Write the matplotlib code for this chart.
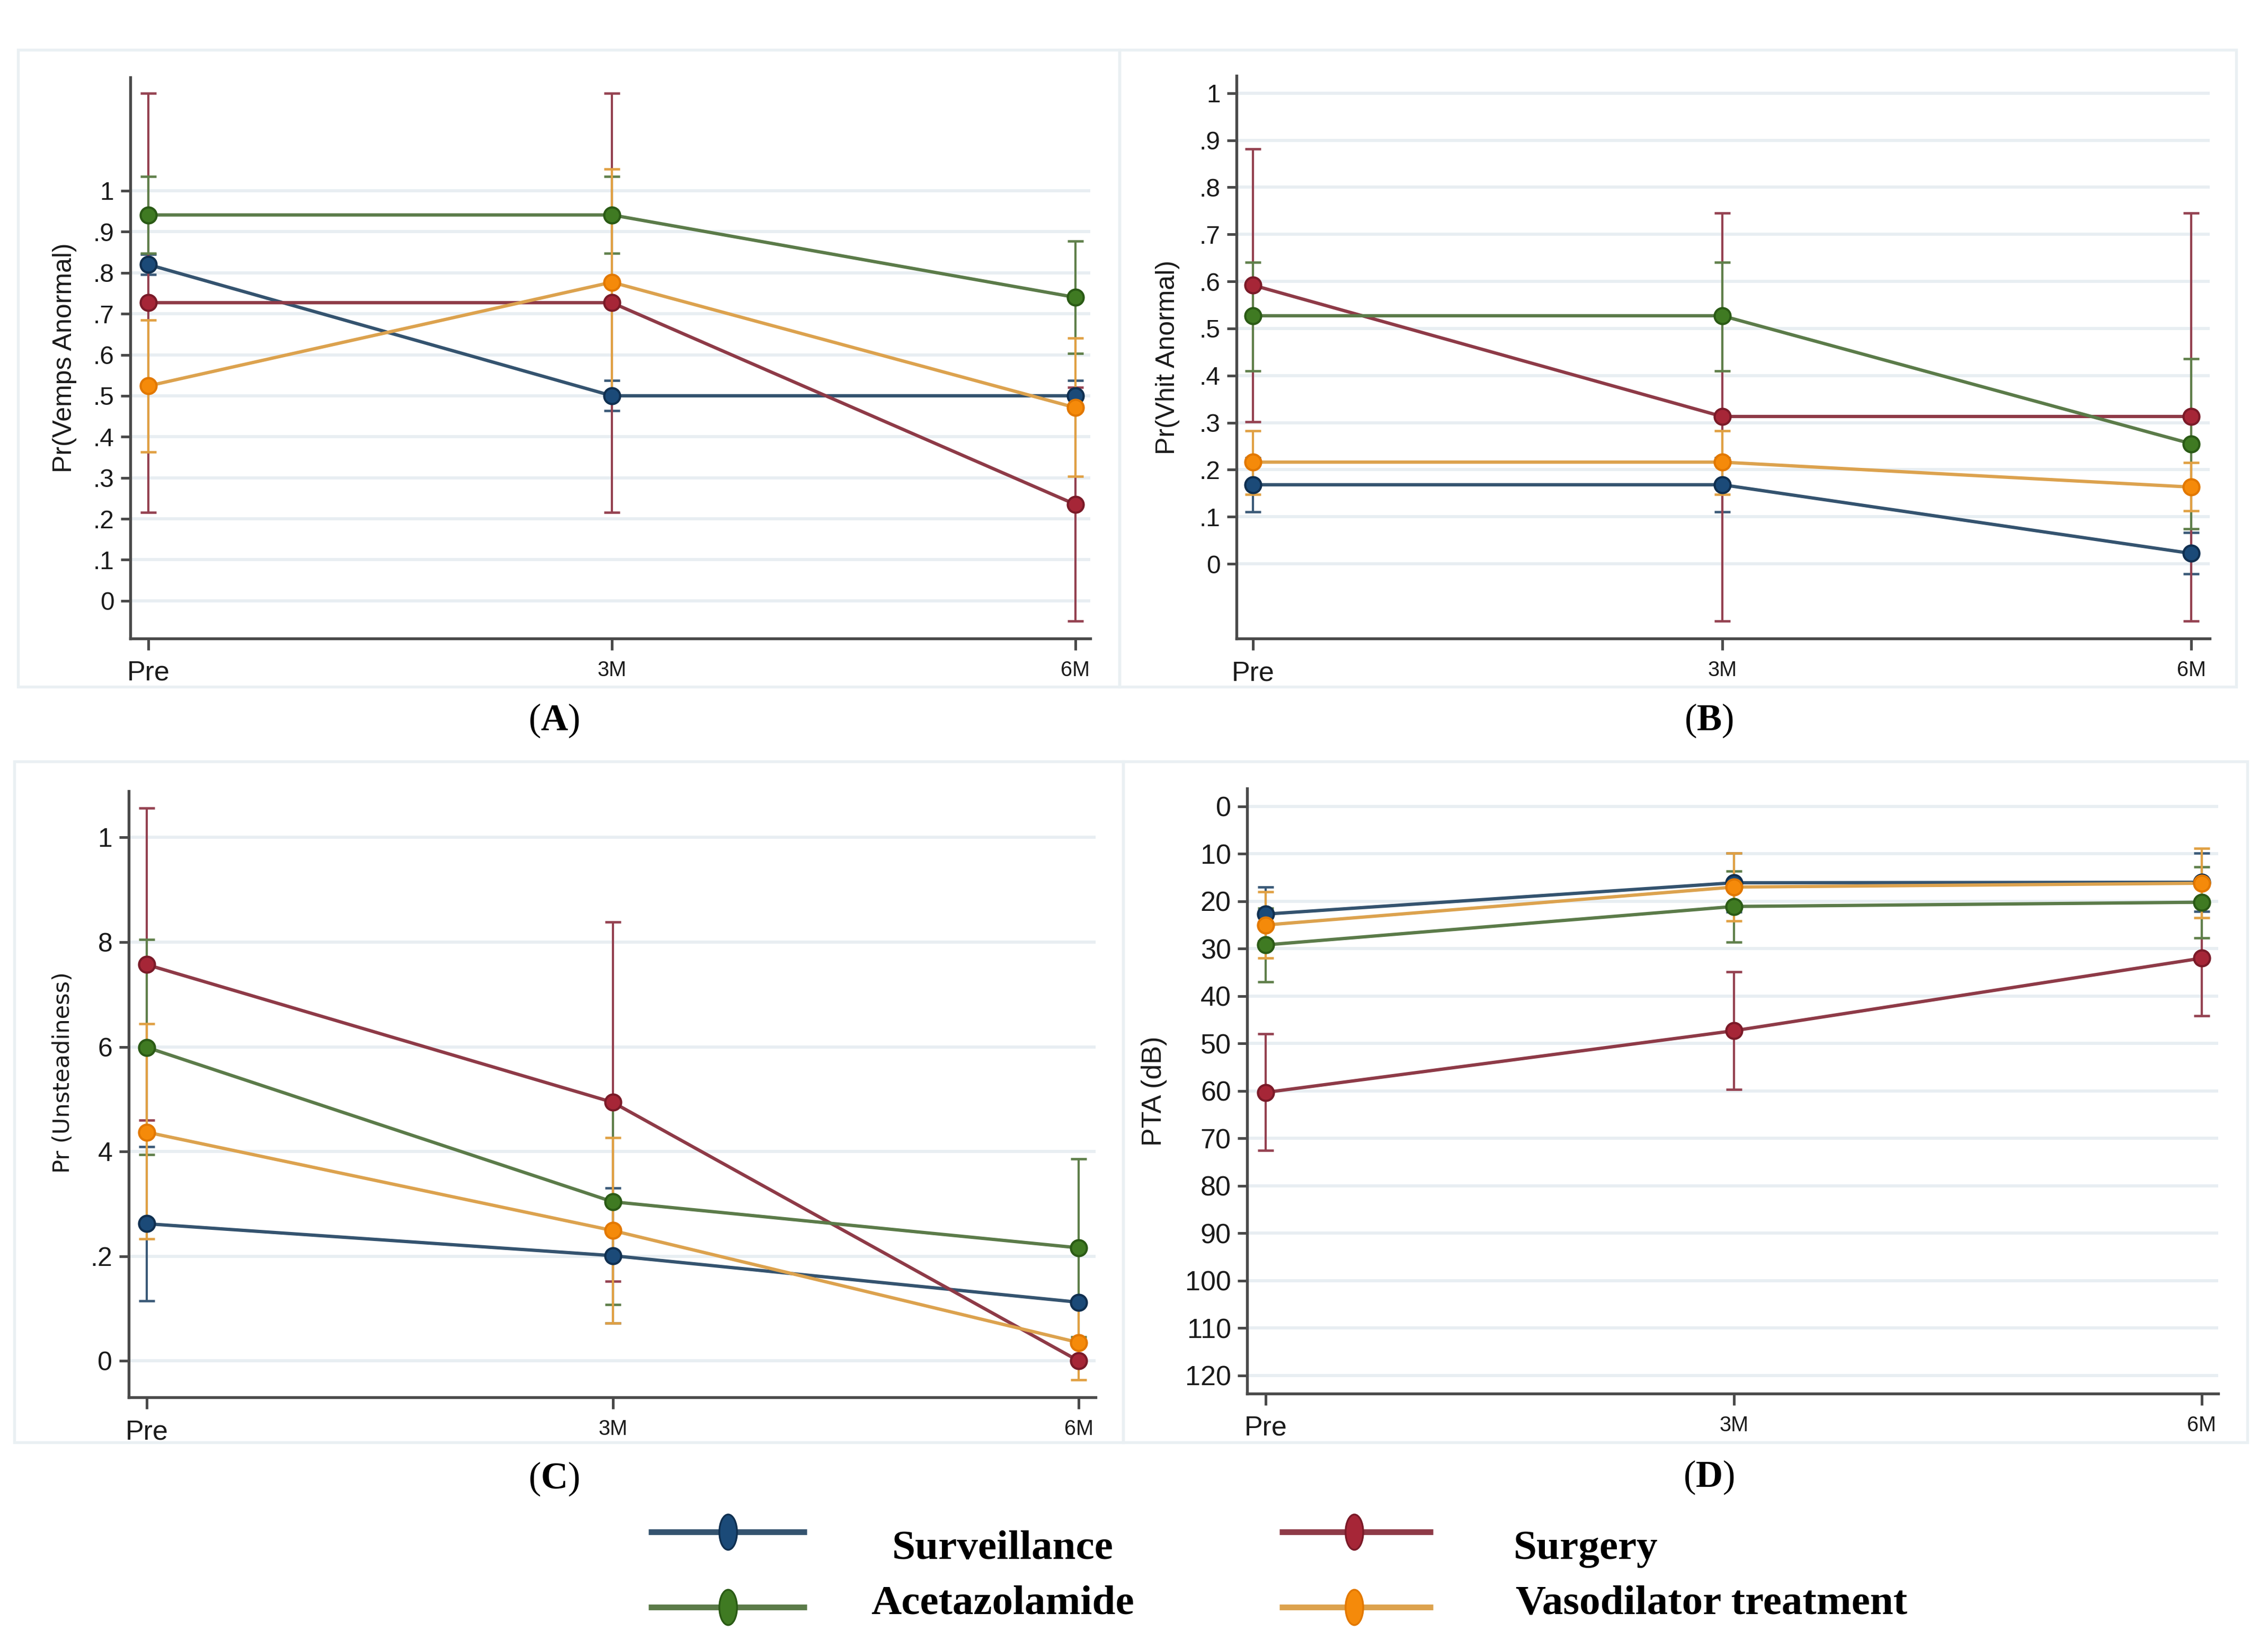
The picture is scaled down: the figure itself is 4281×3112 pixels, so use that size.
import numpy as np
import matplotlib
matplotlib.use("Agg")
import matplotlib.pyplot as plt
from matplotlib.path import Path
from matplotlib.patches import Rectangle

plt.rcParams['font.family'] = ['Liberation Sans', 'DejaVu Sans']
plt.rcParams['mathtext.fontset'] = 'custom'
plt.rcParams['mathtext.rm'] = 'Liberation Serif'
plt.rcParams['mathtext.bf'] = 'Liberation Serif:bold'

# ---------------- data ----------------
timepoints = ["Pre", "3M", "6M"]
groups = ["Surveillance", "Surgery", "Acetazolamide", "Vasodilator treatment"]

# Panel A: Pr(Vemps Anormal)
a_surv = [0.820, 0.500, 0.500]
a_surv_lo = [0.796, 0.464, 0.464]
a_surv_hi = [0.845, 0.537, 0.537]
a_surg = [0.727, 0.727, 0.235]
a_surg_lo = [0.215, 0.215, -0.050]
a_surg_hi = [1.238, 1.238, 0.520]
a_acet = [0.941, 0.941, 0.740]
a_acet_lo = [0.847, 0.847, 0.603]
a_acet_hi = [1.035, 1.035, 0.877]
a_vaso = [0.524, 0.777, 0.471]
a_vaso_lo = [0.363, 0.500, 0.303]
a_vaso_hi = [0.685, 1.053, 0.641]

# Panel B: Pr(Vhit Anormal)
b_surv = [0.168, 0.168, 0.022]
b_surv_lo = [0.110, 0.110, -0.021]
b_surv_hi = [0.225, 0.225, 0.066]
b_surg = [0.592, 0.313, 0.313]
b_surg_lo = [0.302, -0.121, -0.121]
b_surg_hi = [0.881, 0.745, 0.745]
b_acet = [0.527, 0.527, 0.255]
b_acet_lo = [0.410, 0.410, 0.074]
b_acet_hi = [0.641, 0.641, 0.436]
b_vaso = [0.216, 0.216, 0.163]
b_vaso_lo = [0.148, 0.148, 0.113]
b_vaso_hi = [0.283, 0.283, 0.215]

# Panel C: Pr (Unsteadiness)
c_surv = [0.262, 0.201, 0.112]
c_surv_lo = [0.115, 0.072, 0.112]
c_surv_hi = [0.409, 0.330, 0.112]
c_surg = [0.757, 0.494, 0.000]
c_surg_lo = [0.460, 0.152, 0.000]
c_surg_hi = [1.056, 0.838, 0.000]
c_acet = [0.599, 0.304, 0.216]
c_acet_lo = [0.394, 0.108, 0.046]
c_acet_hi = [0.805, 0.500, 0.386]
c_vaso = [0.437, 0.249, 0.035]
c_vaso_lo = [0.233, 0.072, -0.036]
c_vaso_hi = [0.644, 0.426, 0.106]

# Panel D: PTA (dB)
d_surv = [22.7, 16.1, 16.0]
d_surv_lo = [17.0, 9.9, 9.9]
d_surv_hi = [28.4, 22.3, 22.1]
d_surg = [60.3, 47.3, 32.0]
d_surg_lo = [47.9, 34.9, 19.6]
d_surg_hi = [72.5, 59.7, 44.2]
d_acet = [29.2, 21.1, 20.2]
d_acet_lo = [21.5, 13.6, 12.7]
d_acet_hi = [37.0, 28.6, 27.7]
d_vaso = [25.0, 17.0, 16.2]
d_vaso_lo = [18.0, 9.9, 8.8]
d_vaso_hi = [32.0, 24.1, 23.5]

a_yticks = [0, .1, .2, .3, .4, .5, .6, .7, .8, .9, 1]
a_yticklabels = ["0", ".1", ".2", ".3", ".4", ".5", ".6", ".7", ".8", ".9", "1"]
c_yticks = [0, .2, .4, .6, .8, 1]
c_yticklabels = ["0", ".2", "4", "6", "8", "1"]
d_yticks = list(range(0, 121, 10))
d_yticklabels = [str(v) for v in d_yticks]

# ---------------- styles ----------------
line_colors = ['#34536f', '#8e3a47', '#5b7b49', '#dca24e']
ci_colors = ['#3a5977', '#944150', '#5f7f4a', '#e0a043']
marker_colors = ['#1b4a78', '#a62637', '#3f7a22', '#f58a0a']
marker_edges = ['#0f2f50', '#7a1a28', '#2a5a15', '#e27800']

W, H = 4281, 3112
fig = plt.figure(figsize=(W / 300, H / 300), dpi=300)

# faint panel frames (figure pixel coords)
frames = [(34, 94, 2113, 1296), (2113, 94, 4221, 1296),
          (27, 1437, 2120, 2722), (2120, 1437, 4242, 2722)]
for x0, y0, x1, y1 in frames:
    fig.patches.append(Rectangle((x0 / W, 1 - y1 / H), (x1 - x0) / W, (y1 - y0) / H,
                                 transform=fig.transFigure, fill=False,
                                 edgecolor='#eaf0f3', lw=1.3, zorder=0))

x = np.arange(len(timepoints))


def panel(rect, means, los, his, xlim, ylim, yticks, yticklabels, ylabel,
          ylabel_xy, ytick_fs, ylabel_font, ylabel_fs):
    ax = fig.add_axes(rect)
    ax.set_xlim(*xlim)
    ax.set_ylim(*ylim)
    for sp in ['top', 'right']:
        ax.spines[sp].set_visible(False)
    for sp in ['left', 'bottom']:
        ax.spines[sp].set_color('#4a4a4a')
        ax.spines[sp].set_linewidth(1.3)
    ax.set_yticks(yticks)
    ax.set_yticklabels(yticklabels, fontsize=ytick_fs, color='#1a1a1a')
    ax.set_xticks(x)
    ax.set_xticklabels(timepoints, color='#1a1a1a')
    xl = ax.get_xticklabels()
    xl[0].set_fontsize(12.5)
    xl[1].set_fontsize(9.5)
    xl[2].set_fontsize(9.5)
    ax.tick_params(axis='y', direction='out', length=4.3, width=1.2, color='#4a4a4a', pad=3.0)
    ax.tick_params(axis='x', direction='out', length=5.3, width=1.2, color='#4a4a4a', pad=4.5)
    ax.grid(axis='y', color='#e8eef2', lw=1.4, zorder=0)
    ax.set_axisbelow(True)
    for i in range(4):
        m = np.array(means[i])
        lo = np.array(los[i])
        hi = np.array(his[i])
        ax.errorbar(x, m, yerr=[np.abs(m - lo), np.abs(hi - m)], fmt='none',
                    ecolor=ci_colors[i], elinewidth=1.0, capsize=3.6, capthick=1.1, zorder=2)
    for i in range(4):
        ax.plot(x, means[i], color=line_colors[i], lw=1.5, zorder=3)
    for i in range(4):
        ax.plot(x, means[i], linestyle='none', marker='o', ms=7.2,
                markerfacecolor=marker_colors[i], markeredgecolor=marker_edges[i],
                markeredgewidth=1.0, zorder=4)
    ax.set_ylabel(ylabel, fontsize=ylabel_fs, family=ylabel_font, color='#1a1a1a')
    ax.yaxis.set_label_coords(*ylabel_xy)
    return ax


panel([0.0574, 0.6128, 0.4233, 0.3404],
      [a_surv, a_surg, a_acet, a_vaso],
      [a_surv_lo, a_surg_lo, a_acet_lo, a_vaso_lo],
      [a_surv_hi, a_surg_hi, a_acet_hi, a_vaso_hi],
      (-0.039, 2.032), (-0.092, 1.277), a_yticks, a_yticklabels,
      "Pr(Vemps Anormal)", (-0.0556, 0.5), 11.5, ['Liberation Sans'], 12)

panel([0.5452, 0.6127, 0.4291, 0.3414],
      [b_surv, b_surg, b_acet, b_vaso],
      [b_surv_lo, b_surg_lo, b_acet_lo, b_vaso_lo],
      [b_surv_hi, b_surg_hi, b_acet_hi, b_vaso_hi],
      (-0.035, 2.039), (-0.159, 1.037), a_yticks, a_yticklabels,
      "Pr(Vhit Anormal)", (-0.058, 0.5), 11.5, ['Liberation Sans'], 12)

panel([0.0567, 0.1525, 0.4263, 0.3679],
      [c_surv, c_surg, c_acet, c_vaso],
      [c_surv_lo, c_surg_lo, c_acet_lo, c_vaso_lo],
      [c_surv_hi, c_surg_hi, c_acet_hi, c_vaso_hi],
      (-0.039, 2.036), (-0.070, 1.089), c_yticks, c_yticklabels,
      "Pr (Unsteadiness)", (-0.0564, 0.5357), 12, ['DejaVu Sans'], 10.4)

panel([0.5499, 0.1549, 0.4281, 0.3670],
      [d_surv, d_surg, d_acet, d_vaso],
      [d_surv_lo, d_surg_lo, d_acet_lo, d_vaso_lo],
      [d_surv_hi, d_surg_hi, d_acet_hi, d_vaso_hi],
      (-0.040, 2.035), (123.8, -3.8), d_yticks, d_yticklabels,
      "PTA (dB)", (-0.0826, 0.5), 12.5, ['Liberation Sans'], 12.5)

# panel letters
for lab, px, py in [("A", 0.2443, 0.5630), ("B", 0.7535, 0.5630),
                    ("C", 0.2443, 0.1032), ("D", 0.7535, 0.1040)]:
    fig.text(px, py, r"($\mathbf{%s}$)" % lab, fontsize=17, family='Liberation Serif',
             ha='center', va='center', color='black')

# legend (drawn manually in figure coordinates)
lax = fig.add_axes([0, 0, 1, 1])
lax.set_xlim(0, 1)
lax.set_ylim(0, 1)
lax.axis('off')
circ = Path.unit_circle()
ellipse = Path(circ.vertices * np.array([0.5, 1.0]), circ.codes)

leg_pos = [  # (line x0, line x1, marker x, y, text x, text y, ha)
    (0.2859, 0.3558, 0.3210, 0.0710, 0.4420, 0.0607, 'center'),
    (0.5641, 0.6319, 0.5970, 0.0710, 0.6674, 0.0607, 'left'),
    (0.2859, 0.3558, 0.3210, 0.0254, 0.4420, 0.0272, 'center'),
    (0.5641, 0.6319, 0.5970, 0.0254, 0.6683, 0.0272, 'left'),
]
for i, (x0, x1, xm, yy, tx, ty, ha) in enumerate(leg_pos):
    lax.plot([x0, x1], [yy, yy], color=line_colors[i], lw=2.6, solid_capstyle='butt')
    lax.plot([xm], [yy], linestyle='none', marker=ellipse, ms=16,
             markerfacecolor=marker_colors[i], markeredgecolor=marker_edges[i],
             markeredgewidth=0.8)
    lax.text(tx, ty, groups[i], fontsize=19, family='Liberation Serif',
             weight='bold', ha=ha, va='center', color='black')

fig.savefig("out.png", dpi=300)
